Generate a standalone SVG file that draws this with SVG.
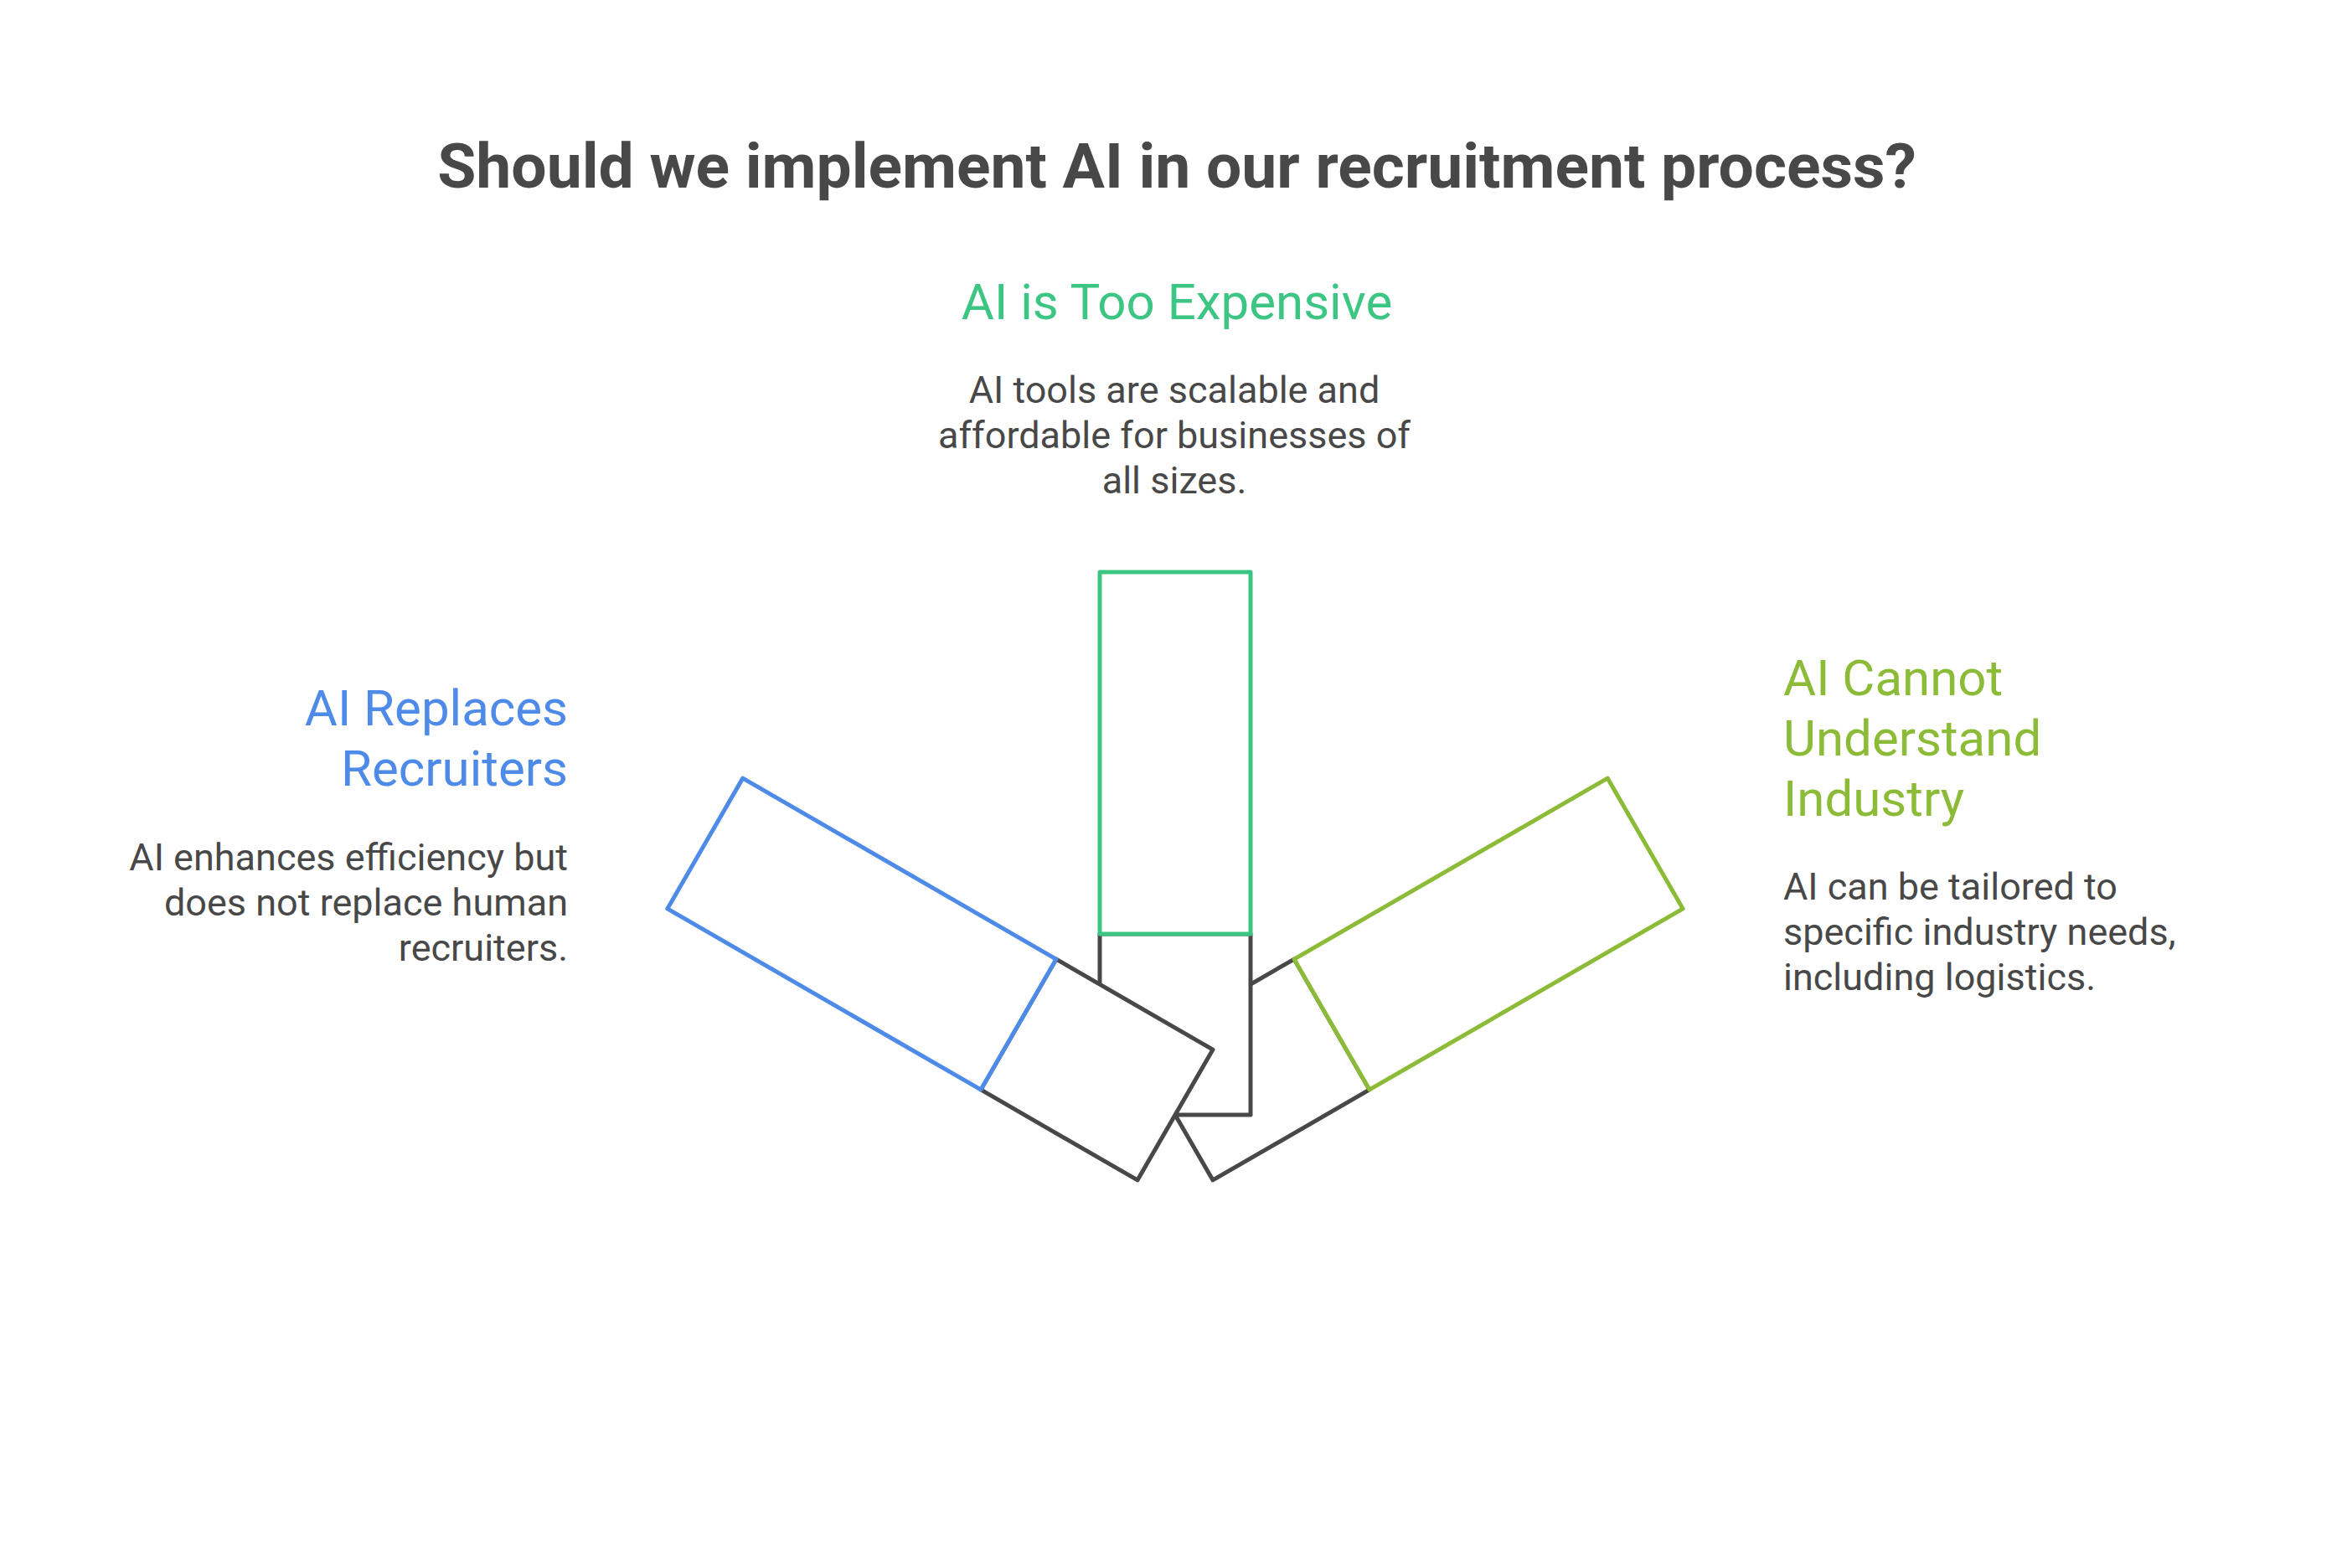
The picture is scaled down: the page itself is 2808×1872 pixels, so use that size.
<svg xmlns="http://www.w3.org/2000/svg" width="2808" height="1872" viewBox="0 0 2808 1872">
  <style>
    .bg { fill: #ffffff; }
    .title { font-family: Roboto, "Liberation Sans", sans-serif; font-weight: 700; font-size: 75px; fill: #484848; }
    .head { font-family: Roboto, "Liberation Sans", sans-serif; font-weight: 400; font-size: 60px; }
    .desc { font-family: Roboto, "Liberation Sans", sans-serif; font-weight: 400; font-size: 45px; fill: #484848; }
    .dark { fill: #ffffff; stroke: #484848; stroke-width: 5; stroke-linejoin: round; }
    .c-blue { fill: #ffffff; stroke: #4E8BE8; stroke-width: 5; stroke-linejoin: round; }
    .c-green { fill: #ffffff; stroke: #3DC584; stroke-width: 5; stroke-linejoin: round; }
    .c-lime { fill: #ffffff; stroke: #8CBB38; stroke-width: 5; stroke-linejoin: round; }
    .t-blue { fill: #4E8BE8; }
    .t-green { fill: #3DC584; }
    .t-lime { fill: #8CBB38; }
  </style>
  <rect class="bg" x="0" y="0" width="2808" height="1872"/>

  <text class="title" x="1405" y="224" text-anchor="middle">Should we implement AI in our recruitment process?</text>

  <g id="connectors"></g>

  <!-- right: AI Cannot Understand Industry (drawn first, below) -->
  <g id="node-industry" transform="rotate(60 1403 1331)">
    <rect class="dark" x="1313" y="1115" width="180" height="216"/>
    <rect class="c-lime" x="1313" y="683" width="180" height="432"/>
  </g>

  <!-- center: AI is Too Expensive -->
  <g id="node-expensive">
    <rect class="dark" x="1313" y="1115" width="180" height="216"/>
    <rect class="c-green" x="1313" y="683" width="180" height="432"/>
  </g>

  <!-- left: AI Replaces Recruiters (drawn last, on top) -->
  <g id="node-replaces" transform="rotate(-60 1403 1331)">
    <rect class="dark" x="1313" y="1115" width="180" height="216"/>
    <rect class="c-blue" x="1313" y="683" width="180" height="432"/>
  </g>

  <g id="label-expensive" text-anchor="middle">
    <text class="head t-green" x="1405" y="381">AI is Too Expensive</text>
    <text class="desc" x="1402" y="481">AI tools are scalable and</text>
    <text class="desc" x="1402" y="535">affordable for businesses of</text>
    <text class="desc" x="1402" y="589">all sizes.</text>
  </g>

  <g id="label-replaces" text-anchor="end">
    <text class="head t-blue" x="678" y="866">AI Replaces</text>
    <text class="head t-blue" x="678" y="938">Recruiters</text>
    <text class="desc" x="678" y="1039">AI enhances efficiency but</text>
    <text class="desc" x="678" y="1093">does not replace human</text>
    <text class="desc" x="678" y="1147">recruiters.</text>
  </g>

  <g id="label-industry" text-anchor="start">
    <text class="head t-lime" x="2129" y="830">AI Cannot</text>
    <text class="head t-lime" x="2129" y="902">Understand</text>
    <text class="head t-lime" x="2129" y="974">Industry</text>
    <text class="desc" x="2129" y="1074">AI can be tailored to</text>
    <text class="desc" x="2129" y="1128">specific industry needs,</text>
    <text class="desc" x="2129" y="1182">including logistics.</text>
  </g>
</svg>
